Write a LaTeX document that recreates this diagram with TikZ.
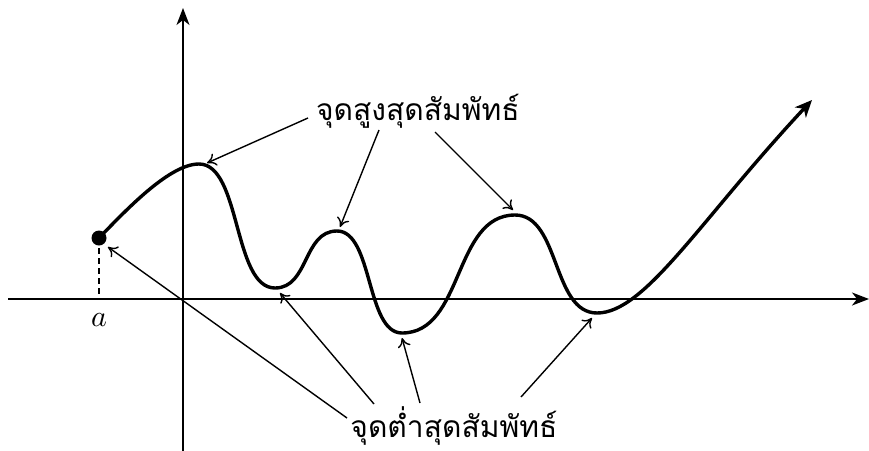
\documentclass[tikz,border=0pt]{standalone}
\usepackage{fontspec}
\newfontfamily\thaifont[Script=Thai]{Loma}
\usetikzlibrary{arrows.meta}
\begin{document}
\begin{tikzpicture}[x=1pt,y=1pt,
  axis/.style={line width=1.4pt,-{Stealth[length=17pt,width=13pt,inset=5pt]}},
  graph/.style={line width=3.4pt,line join=round},
  pointer/.style={line width=1.4pt,-{To[length=9pt,width=13pt]}},
  lbl/.style={font=\thaifont\fontsize{30}{36}\selectfont, inner sep=0pt, anchor=base}]
\useasboundingbox (0,0) rectangle (869,-450);
% axes
\coordinate (xl) at (8,-299); \coordinate (xr) at (869,-299);
\coordinate (yb) at (183,-452); \coordinate (yt) at (183,-8);
\draw[axis] (xl) -- (xr);
\draw[axis] (yb) -- (yt);
% extrema
\coordinate (dot) at (99,-238);
\coordinate (M1) at (199,-164);
\coordinate (m1) at (275,-288);
\coordinate (M2) at (337,-231);
\coordinate (m2) at (402,-333);
\coordinate (M3) at (515,-215);
\coordinate (m3) at (597,-313);
\coordinate (end) at (812,-100);
\coordinate (foot) at (99,-299);
% curve
\draw[graph,-{Stealth[length=17pt,width=15pt,inset=5pt]}]
  (dot) .. controls (128,-208) and (170,-164) .. (M1)
        .. controls (241,-164) and (233,-288) .. (m1)
        .. controls (309,-288) and (303,-231) .. (M2)
        .. controls (373,-231) and (366,-333) .. (m2)
        .. controls (464,-333) and (453,-215) .. (M3)
        .. controls (560,-215) and (552,-313) .. (m3)
        .. controls (645,-313) and (700,-220) .. (end);
\fill (dot) circle (7.5);
\draw[line width=1.3pt,dashed,dash pattern=on 6pt off 4pt] (dot) -- (foot);
\node[scale=3, anchor=base, inner sep=0pt] (alab) at (99,-326) {$a$};
% labels
\node[lbl] (maxlbl) at (418,-120) {จุดสูงสุดสัมพัทธ์};
\node[lbl] (minlbl) at (454,-437) {จุดต่ำสุดสัมพัทธ์};
% pointer starts / ends
\coordinate (s1) at (308,-118); \coordinate (t1) at (207,-163);
\coordinate (s2) at (379,-130); \coordinate (t2) at (340,-227);
\coordinate (s3) at (435,-132); \coordinate (t3) at (513,-210);
\coordinate (u1) at (347,-418); \coordinate (v1) at (108,-247);
\coordinate (u2) at (374,-404); \coordinate (v2) at (280,-293);
\coordinate (u3) at (420,-403); \coordinate (v3) at (402,-338);
\coordinate (u4) at (521,-397); \coordinate (v4) at (592,-318);
\draw[pointer] (s1) -- (t1);
\draw[pointer] (s2) -- (t2);
\draw[pointer] (s3) -- (t3);
\draw[pointer] (u1) -- (v1);
\draw[pointer] (u2) -- (v2);
\draw[pointer] (u3) -- (v3);
\draw[pointer] (u4) -- (v4);
\end{tikzpicture}
\end{document}
